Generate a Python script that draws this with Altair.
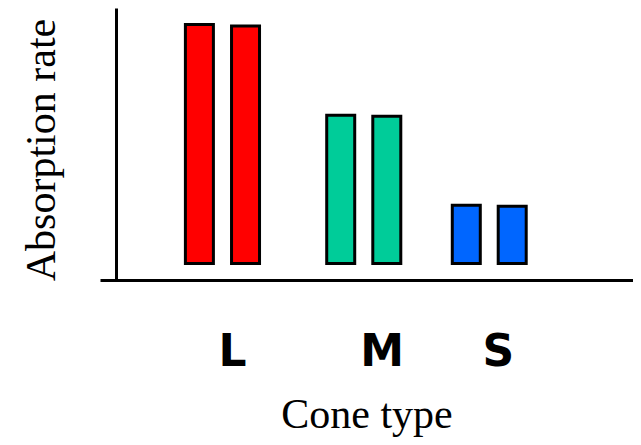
import altair as alt
import pandas as pd

# Bars: cone type, horizontal position (in 0-100 units across the plot), absorption value
bar_cones = ["L", "L", "M", "M", "S", "S"]
bar_pos = [18.05, 26.87, 45.07, 53.88, 69.08, 77.86]
absorption = [100.0, 99.4, 62.0, 61.6, 24.4, 24.0]

# Category labels under the bars
label_cats = ["L", "M", "S"]
label_pos = [24.4, 53.0, 75.2]

cone_colors = ["#FF0000", "#00CC99", "#0066FF"]

bars_df = pd.DataFrame({"cone": bar_cones, "pos": bar_pos, "absorption": absorption})
labels_df = pd.DataFrame({"cone": label_cats, "pos": label_pos})

x_scale = alt.Scale(domain=[0, 100], nice=False, zero=False)
y_scale = alt.Scale(domain=[-6.9, 106.9], nice=False, zero=False)

x_axis = alt.Axis(labels=False, ticks=False, grid=False, title=None,
                  domainColor="black", domainWidth=3)
y_axis = alt.Axis(labels=False, ticks=False, grid=False, title=None,
                  domainColor="black", domainWidth=3, offset=-16)

bars = alt.Chart(bars_df).mark_bar(size=28, stroke="black", strokeWidth=3).encode(
    x=alt.X("pos:Q", scale=x_scale, axis=x_axis),
    y=alt.Y("absorption:Q", scale=y_scale, axis=y_axis),
    y2=alt.datum(0),
    color=alt.Color("cone:N", scale=alt.Scale(domain=label_cats, range=cone_colors), legend=None),
)

labels = alt.Chart(labels_df).mark_text(
    font="DejaVu Sans", fontWeight="bold", fontSize=44, baseline="alphabetic", align="center", color="black"
).encode(
    x=alt.X("pos:Q", scale=x_scale),
    y=alt.value(358),
    text="cone:N",
)

x_title = alt.Chart(pd.DataFrame({"t": ["Cone type"]})).mark_text(
    font="Liberation Serif", fontSize=42, baseline="alphabetic", align="center", color="black"
).encode(x=alt.value(267), y=alt.value(420), text="t:N")

y_title = alt.Chart(pd.DataFrame({"t": ["Absorption rate"]})).mark_text(
    font="Liberation Serif", fontSize=42, baseline="alphabetic", align="center", color="black", angle=270
).encode(x=alt.value(-45), y=alt.value(142), text="t:N")

chart = alt.layer(bars, labels, x_title, y_title).properties(
    width=533,
    height=272,
    autosize=alt.AutoSizeParams(type="none"),
    padding={"left": 92, "top": 0, "right": 0, "bottom": 157},
).configure_view(strokeWidth=0)

chart.save("out.html", embed_options={"renderer": "svg", "actions": False})
